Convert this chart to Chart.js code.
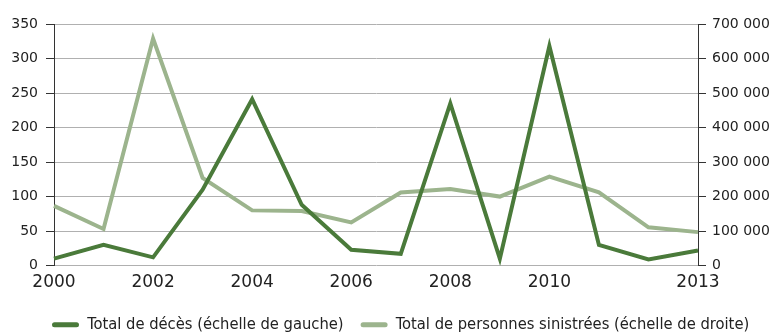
<!doctype html>
<html>
<head>
<meta charset="utf-8">
<title>Décès et personnes sinistrées</title>
<script src="https://cdn.jsdelivr.net/npm/chart.js@4/dist/chart.umd.min.js"></script>
<style>
	html, body { margin: 0; padding: 0; background: #fff; }
	#wrap { width: 777px; height: 333px; }
</style>
</head>
<body>
<div id="wrap"><canvas id="canvas"></canvas></div>
<script>
	var years = ['2000', '2001', '2002', '2003', '2004', '2005', '2006', '2007', '2008', '2009', '2010', '2011', '2012', '2013'];
	var shownYears = ['2000', '2002', '2004', '2006', '2008', '2010', '2013'];
	var deces = [10, 30, 12, 110, 241, 88, 23, 17, 235, 10, 318, 30, 9, 22];
	var sinistres = [173000, 106000, 658000, 254000, 160000, 158000, 125000, 212000, 222000, 200000, 258000, 212000, 111000, 97000];
	var labelDeces = 'Total de décès (échelle de gauche)';
	var labelSinistres = 'Total de personnes sinistrées (échelle de droite)';

	var darkGreen = '#4a7a3a';
	var lightGreen = '#9cb48d';
	var gridGrey = '#b0b0b0';
	var axisDark = '#333333';

	function espaces(v) {
		return String(v).replace(/\B(?=(\d{3})+(?!\d))/g, ' ');
	}

	// move the legend row right and down from where the layout puts it
	var legendShift = {
		id: 'legendShift',
		afterLayout: function(chart) {
			var lg = chart.legend;
			lg.left += 35;
			lg.right += 35;
			lg.top += 10;
			lg.bottom += 10;
		}
	};

	var config = {
		type: 'line',
		data: {
			labels: years,
			datasets: [{
				label: labelDeces,
				data: deces,
				yAxisID: 'y',
				borderColor: darkGreen,
				backgroundColor: darkGreen,
				borderWidth: 4,
				pointRadius: 0,
				tension: 0,
				fill: false
			}, {
				label: labelSinistres,
				data: sinistres,
				yAxisID: 'y1',
				borderColor: lightGreen,
				backgroundColor: lightGreen,
				borderWidth: 4,
				pointRadius: 0,
				tension: 0,
				fill: false
			}]
		},
		plugins: [legendShift],
		options: {
			responsive: true,
			maintainAspectRatio: false,
			animation: false,
			layout: { padding: { top: 24, left: 0, right: 0, bottom: 0 } },
			plugins: {
				tooltip: { enabled: false },
				legend: {
					position: 'bottom',
					align: 'start',
					labels: {
						color: '#222',
						font: { family: "'DejaVu Sans Condensed', sans-serif", size: 16.4 },
						boxWidth: 27,
						boxHeight: 5,
						useBorderRadius: true,
						borderRadius: 2.5,
						padding: 17,
						generateLabels: function(chart) {
							return chart.data.datasets.map(function(ds, i) {
								return {
									text: ds.label,
									fillStyle: ds.borderColor,
									strokeStyle: ds.borderColor,
									lineWidth: 0,
									fontColor: '#222',
									borderRadius: 2.5,
									datasetIndex: i
								};
							});
						}
					}
				}
			},
			scales: {
				x: {
					offset: false,
					afterFit: function(scale) { scale.height = 24; },
					grid: { display: false, tickLength: 0 },
					border: { display: false },
					ticks: {
						autoSkip: false,
						maxRotation: 0,
						padding: 7,
						color: '#222',
						font: { family: "'DejaVu Sans', sans-serif", size: 17 },
						callback: function(value, index) {
							var y = years[index];
							return shownYears.indexOf(y) >= 0 ? y : '';
						}
					}
				},
				y: {
					position: 'left',
					min: 0,
					max: 350,
					afterFit: function(scale) { scale.width = 54; },
					ticks: {
						stepSize: 50,
						padding: 8,
						color: '#222',
						font: { family: "'DejaVu Sans', sans-serif", size: 14 }
					},
					grid: {
						color: gridGrey,
						lineWidth: 1,
						tickLength: 8,
						tickColor: axisDark
					},
					border: { display: true, color: axisDark, width: 1 }
				},
				y1: {
					position: 'right',
					min: 0,
					max: 700000,
					afterFit: function(scale) { scale.width = 79; },
					ticks: {
						stepSize: 100000,
						padding: 6,
						color: '#222',
						font: { family: "'DejaVu Sans', sans-serif", size: 14 },
						callback: function(value) { return espaces(value); }
					},
					grid: {
						drawOnChartArea: false,
						tickLength: 8,
						tickColor: axisDark
					},
					border: { display: true, color: axisDark, width: 1 }
				}
			}
		}
	};

	window.onload = function() {
		var ctx = document.getElementById('canvas').getContext('2d');
		window.myLine = new Chart(ctx, config);
	};
</script>
</body>
</html>
